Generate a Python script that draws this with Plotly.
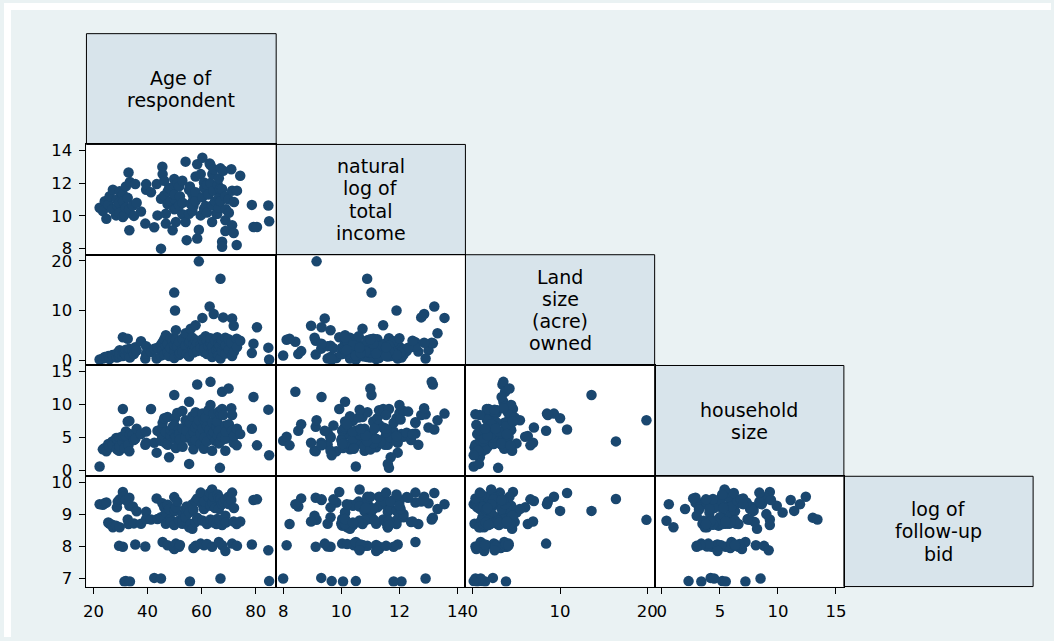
import plotly.graph_objects as go

# One row per respondent
age = [22.3, 23.5, 24.2, 24.8, 25.5, 26.0, 27.0, 27.2, 28.4, 28.7, 29.0, 29.5, 29.7, 29.7,
       30.9, 30.9, 31.0, 31.5, 32.0, 32.0, 32.7, 33.0, 33.3, 33.3, 33.5, 34.6, 35.0, 35.5,
       36.0, 37.6, 39.2, 39.5, 39.5, 41.3, 42.5, 43.4, 43.7, 45.0, 45.0, 45.5, 45.6, 46.2,
       46.2, 46.8, 46.8, 47.4, 47.5, 48.0, 48.5, 48.6, 49.3, 49.9, 50.2, 49.9, 49.9, 49.9,
       50.5, 50.5, 51.0, 51.7, 51.7, 52.0, 52.9, 52.9, 53.0, 54.1, 54.1, 54.5, 55.4, 55.4,
       55.7, 56.0, 56.6, 56.6, 57.0, 57.0, 57.8, 57.8, 57.8, 58.4, 58.4, 59.0, 59.7, 59.7,
       60.3, 60.3, 60.9, 60.9, 61.0, 61.5, 62.0, 62.0, 62.5, 63.0, 63.3, 63.3, 63.9, 63.9,
       64.0, 64.5, 64.5, 65.0, 65.5, 65.8, 66.0, 66.4, 66.4, 66.4, 66.8, 67.0, 67.0, 67.6,
       67.6, 67.6, 68.0, 68.8, 68.8, 68.8, 69.0, 70.0, 70.1, 71.0, 71.3, 71.3, 71.9, 72.0,
       73.0, 73.1, 74.3, 78.6, 79.2, 80.5, 84.7, 85.0]

income = [10.50, 10.30, 10.90, 9.83, 10.70, 11.20, 10.40, 11.60, 10.03, 11.00, 10.60, 10.80,
          11.50, 10.20, 9.93, 11.30, 10.90, 10.06, 10.50, 11.80, 11.10, 12.65, 9.12, 10.40,
          12.07, 10.63, 10.00, 11.94, 10.80, 10.27, 9.53, 11.60, 11.94, 11.44, 9.31, 11.94,
          10.03, 11.04, 8.00, 13.00, 12.55, 11.24, 12.14, 10.13, 9.53, 10.73, 11.50, 11.70,
          10.90, 11.64, 9.12, 11.04, 11.90, 12.25, 10.40, 11.30, 9.63, 10.43, 12.00, 10.63,
          11.80, 11.20, 12.14, 10.10, 10.80, 13.31, 9.63, 8.52, 10.13, 11.60, 11.80, 10.73,
          11.34, 10.30, 11.00, 10.60, 11.44, 12.40, 10.90, 13.15, 8.62, 9.15, 12.55, 10.03,
          13.55, 11.14, 12.04, 10.43, 11.70, 10.60, 11.90, 10.20, 11.30, 13.20, 13.11, 12.00,
          10.63, 9.63, 12.55, 12.85, 11.54, 10.90, 10.13, 10.13, 11.90, 12.30, 11.10, 10.50,
          11.64, 10.89, 12.90, 8.42, 11.64, 8.12, 12.75, 9.73, 9.08, 11.20, 10.40, 11.00,
          10.19, 12.85, 11.54, 9.43, 8.96, 10.84, 8.22, 11.54, 12.45, 10.67, 9.32, 9.32,
          10.63, 9.67]

land = [0.1, 0.3, 0.6, 0.4, 0.8, 0.2, 1.0, 0.9, 1.2, 0.5, 1.5, 0.7, 2.0, 1.3, 4.6, 0.8,
        1.6, 1.4, 1.0, 2.1, 4.3, 1.7, 1.1, 2.3, 0.5, 2.0, 1.2, 2.6, 1.9, 3.8, 0.3, 1.3,
        2.8, 1.6, 2.3, 0.3, 2.5, 3.1, 0.9, 2.0, 3.6, 4.2, 1.1, 5.0, 2.8, 1.6, 3.3, 0.8,
        2.4, 4.4, 3.9, 13.6, 10.0, 1.8, 3.0, 0.4, 6.0, 4.1, 2.7, 1.0, 3.7, 1.4, 2.2, 4.3,
        1.7, 5.4, 2.9, 1.2, 3.5, 0.7, 3.8, 6.3, 2.0, 4.5, 1.5, 3.2, 7.0, 2.6, 4.0, 3.4,
        1.8, 19.9, 3.1, 2.4, 8.5, 4.2, 1.6, 3.6, 2.3, 4.8, 1.2, 3.8, 2.8, 10.8, 3.5, 4.4,
        2.1, 0.6, 2.7, 9.3, 1.5, 3.9, 2.0, 4.6, 1.0, 2.5, 3.3, 0.9, 2.9, 16.4, 0.3, 3.7,
        1.8, 4.1, 8.6, 2.4, 4.5, 1.3, 3.0, 4.2, 2.1, 3.5, 0.8, 8.4, 6.9, 1.7, 4.3, 2.6,
        3.9, 1.4, 3.3, 6.6, 2.5, 0.1]

hhsize = [0.6, 3.2, 3.4, 2.9, 4.0, 3.5, 4.4, 3.9, 4.9, 3.2, 4.6, 3.0, 5.0, 3.7, 9.3, 4.3,
          5.2, 3.4, 5.2, 5.9, 7.4, 3.9, 2.9, 7.5, 5.5, 5.4, 4.6, 4.8, 6.3, 5.5, 3.9, 5.9,
          4.2, 9.3, 4.2, 2.7, 6.0, 5.6, 4.5, 6.5, 7.2, 7.9, 5.1, 4.1, 5.8, 8.1, 3.9, 2.0,
          5.3, 6.1, 6.6, 11.4, 7.9, 5.7, 4.8, 6.9, 5.1, 3.4, 8.7, 6.2, 5.5, 4.7, 9.0, 6.4,
          3.6, 7.6, 5.0, 6.0, 10.4, 1.0, 7.2, 5.2, 4.3, 8.2, 3.2, 5.9, 6.5, 4.6, 8.8, 13.0,
          7.0, 7.6, 5.6, 4.0, 8.6, 6.3, 7.7, 3.3, 5.0, 8.0, 4.4, 6.7, 9.1, 6.2, 13.4, 9.9,
          5.4, 3.0, 7.3, 8.6, 5.8, 4.5, 6.6, 7.4, 5.2, 8.9, 4.1, 6.0, 0.4, 4.4, 8.5, 11.9,
          9.3, 5.1, 8.4, 6.8, 3.0, 4.8, 5.9, 12.4, 7.0, 9.4, 8.4, 6.0, 4.2, 5.3, 3.8, 6.3,
          5.5, 6.3, 11.1, 3.8, 9.2, 2.3]

bid = [9.32, 9.30, 9.35, 9.37, 8.75, 8.71, 8.68, 8.60, 8.65, 9.22, 9.40, 8.02, 9.47, 8.60,
       9.70, 7.99, 9.55, 6.91, 6.92, 9.45, 8.84, 8.70, 9.52, 9.27, 6.91, 9.25, 8.72, 8.06,
       9.10, 8.71, 8.00, 9.08, 8.86, 8.84, 7.02, 9.50, 8.86, 8.91, 7.00, 9.35, 8.14, 9.22,
       8.91, 9.06, 8.71, 8.04, 9.30, 9.17, 8.85, 8.76, 7.99, 9.11, 9.11, 9.54, 8.67, 7.92,
       9.22, 8.09, 9.40, 8.81, 7.99, 8.05, 9.01, 8.71, 8.80, 9.17, 8.91, 9.25, 9.06, 8.60,
       6.91, 8.70, 9.32, 8.55, 9.15, 7.95, 9.42, 8.76, 8.02, 8.90, 9.50, 8.83, 9.68, 8.09,
       9.32, 8.81, 9.17, 8.04, 9.40, 8.76, 8.70, 8.08, 9.55, 9.67, 8.84, 9.27, 9.78, 7.99,
       9.37, 9.55, 8.75, 9.20, 8.70, 8.86, 9.62, 9.52, 9.17, 8.14, 8.80, 9.48, 7.00, 9.32,
       8.67, 8.04, 9.40, 9.47, 8.96, 7.86, 8.75, 9.55, 9.32, 9.45, 9.68, 8.09, 8.78, 9.20,
       8.70, 8.02, 8.78, 8.06, 9.45, 9.47, 7.88, 6.92]

variable_labels = [["Age of", "respondent"],
                   ["natural", "log of", "total", "income"],
                   ["Land", "size", "(acre)", "owned"],
                   ["household", "size"],
                   ["log of", "follow-up", "bid"]]

tick_values = [[20, 40, 60, 80], [8, 10, 12, 14], [0, 10, 20], [0, 5, 10, 15], [7, 8, 9, 10]]

variables = [age, income, land, hhsize, bid]

# Layout geometry (pixels)
W, H = 1054, 641
col_edges = [83, 274, 464.5, 655, 845.5, 1036]
row_edges = [31, 143, 254.5, 366.5, 478.5, 590]
axis_ranges = [[17.43, 87.6], [7.76, 14.27], [-0.85, 20.84], [-0.62, 15.68], [6.75, 10.19]]
# vertical ranges differ slightly because the cells are shorter than they are wide
y_axis_ranges = [None, [7.63, 14.36], [-1.1, 21.24], [-0.87, 15.87], [6.75, 10.19]]

BG = "#eaf2f3"
DIAG = "#d8e4eb"
NAVY = "#1a476f"
FONT = "DejaVu Sans"
LABEL_SIZE = 19
LINE_STEP = 22.5

fig = go.Figure()
layout = {}
k = 0
for i in range(1, 5):          # row variable (y)
    for j in range(i):         # column variable (x)
        k += 1
        suffix = "" if k == 1 else str(k)
        fig.add_trace(go.Scatter(
            x=variables[j], y=variables[i], mode="markers",
            marker=dict(color=NAVY, size=10.5, line=dict(width=0)),
            xaxis="x" + suffix, yaxis="y" + suffix, showlegend=False,
            hoverinfo="skip"))
        show_x = (i == 4)
        show_y = (j == 0)
        layout["xaxis" + suffix] = dict(
            domain=[col_edges[j] / W, col_edges[j + 1] / W],
            range=axis_ranges[j], anchor="y" + suffix,
            showline=True, mirror=True, linecolor="black", linewidth=1,
            showgrid=False, zeroline=False,
            ticks="outside" if show_x else "", ticklen=6, tickcolor="black",
            ticklabelstandoff=4,
            tickvals=tick_values[j], showticklabels=show_x,
            tickfont=dict(family=FONT, size=16.5, color="black"))
        layout["yaxis" + suffix] = dict(
            domain=[1 - row_edges[i + 1] / H, 1 - row_edges[i] / H],
            range=y_axis_ranges[i], anchor="x" + suffix,
            showline=True, mirror=True, linecolor="black", linewidth=1,
            showgrid=False, zeroline=False,
            ticks="outside" if show_y else "", ticklen=6, tickcolor="black",
            ticklabelstandoff=4,
            tickvals=tick_values[i], showticklabels=show_y,
            tickfont=dict(family=FONT, size=16.5, color="black"))

shapes = [
    # white strips around the graph region
    dict(type="rect", xref="paper", yref="paper", x0=0, x1=7 / W, y0=0, y1=1,
         fillcolor="white", line=dict(width=0), layer="below"),
    dict(type="rect", xref="paper", yref="paper", x0=0, x1=1, y0=1 - 7 / H, y1=1,
         fillcolor="white", line=dict(width=0), layer="below"),
]
annotations = []
for d in range(5):
    x0, x1 = col_edges[d], col_edges[d + 1]
    y0, y1 = row_edges[d], row_edges[d + 1]
    shapes.append(dict(type="rect", xref="paper", yref="paper",
                       x0=x0 / W, x1=x1 / W, y0=1 - y1 / H, y1=1 - y0 / H,
                       fillcolor=DIAG, line=dict(color="black", width=1), layer="below"))
    lines = variable_labels[d]
    cx = (x0 + x1) / 2
    cy = (y0 + y1) / 2
    n = len(lines)
    for li, txt in enumerate(lines):
        py = cy + (li - (n - 1) / 2) * LINE_STEP
        annotations.append(dict(text=txt, x=cx / W, y=1 - py / H, xref="paper", yref="paper",
                                xanchor="center", yanchor="middle", showarrow=False,
                                borderpad=0,
                                font=dict(family=FONT, size=LABEL_SIZE, color="black")))

fig.update_layout(
    width=W, height=H, margin=dict(l=0, r=0, t=0, b=0),
    paper_bgcolor=BG, plot_bgcolor="white",
    shapes=shapes, annotations=annotations, showlegend=False,
    **layout)

fig.write_html("out.html")
